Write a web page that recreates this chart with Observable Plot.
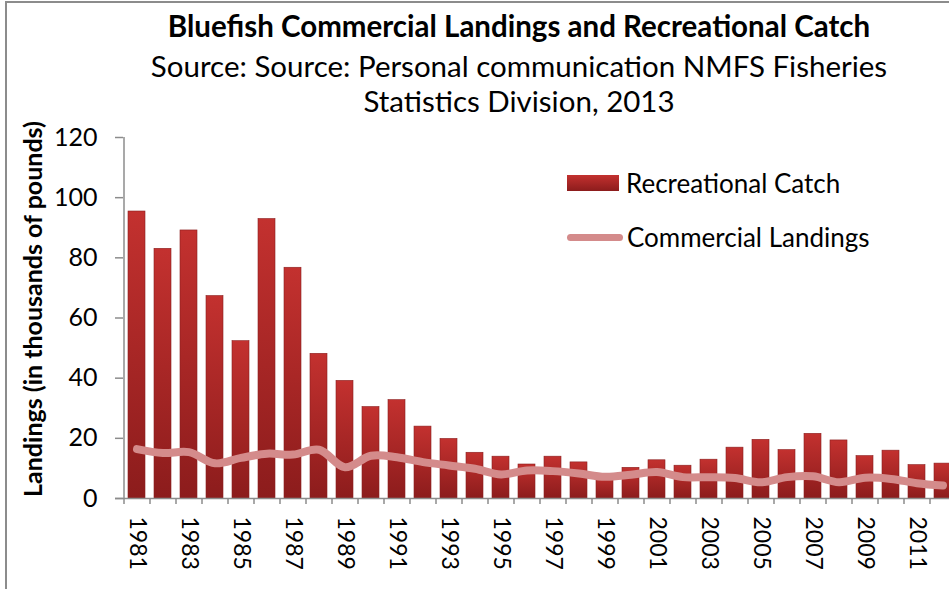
<!DOCTYPE html>
<html>
<head>
<meta charset="utf-8">
<script src="https://cdn.jsdelivr.net/npm/d3@7"></script>
<script src="https://cdn.jsdelivr.net/npm/@observablehq/plot@0.6"></script>
<style>
  html, body { margin: 0; padding: 0; background: #fff; }
  #wrap { position: relative; width: 949px; height: 589px; overflow: hidden; font-family: Lato, sans-serif; color: #000; }
  #border { position: absolute; left: 5px; top: 1px; width: 2000px; height: 2000px; border-top: 2px solid #8c8c8c; border-left: 2px solid #8c8c8c; pointer-events: none; }
  #titles { position: relative; width: 1038px; height: 116px; }
  .t { position: absolute; left: 0; width: 100%; text-align: center; line-height: 1; white-space: nowrap; }
  #title { top: 11px; font-size: 29.5px; font-weight: bold; }
  #sub1 { top: 51px; font-size: 29.5px; }
  #sub2 { top: 86px; font-size: 29.5px; }
  .leg { position: absolute; left: 567px; display: flex; align-items: center; height: 28px; font-size: 26px; white-space: nowrap; }
  .sw-bar { width: 52px; height: 16px; background: linear-gradient(#c3312f, #8c1c1c); margin-right: 7px; }
  .sw-line { width: 56px; height: 7px; border-radius: 4px; background: #d48b8b; margin-right: 4px; }
  #chart svg { display: block; }
</style>
</head>
<body>
<svg width="0" height="0" style="position:absolute">
  <defs>
    <linearGradient id="barGrad" x1="0" y1="0" x2="0" y2="1">
      <stop offset="0" stop-color="#c3312f"/>
      <stop offset="1" stop-color="#8c1c1c"/>
    </linearGradient>
  </defs>
</svg>
<div id="wrap">
  <div id="titles">
    <div class="t" id="title">Bluefish Commercial Landings and Recreational Catch</div>
    <div class="t" id="sub1">Source: Source: Personal communication NMFS Fisheries</div>
    <div class="t" id="sub2">Statistics Division, 2013</div>
  </div>
  <div id="chart"></div>
  <div class="leg" style="top:169px"><div class="sw-bar"></div><span>Recreational Catch</span></div>
  <div class="leg" style="top:223px"><div class="sw-line"></div><span>Commercial Landings</span></div>
  <div id="border"></div>
</div>
<script>
const years = ["1981","1982","1983","1984","1985","1986","1987","1988","1989","1990",
  "1991","1992","1993","1994","1995","1996","1997","1998","1999","2000",
  "2001","2002","2003","2004","2005","2006","2007","2008","2009","2010","2011","2012"];
const recreationalCatch = [95.4, 83.0, 89.1, 67.3, 52.3, 92.9, 76.7, 48.1, 39.1, 30.4,
  32.7, 23.9, 19.8, 15.2, 13.9, 11.3, 13.9, 12.0, 7.8, 10.2,
  12.7, 10.9, 12.9, 16.9, 19.5, 16.1, 21.5, 19.3, 14.1, 15.9, 11.1, 11.6];
const commercialLandings = [16.4, 15.1, 15.4, 11.7, 13.5, 14.9, 14.6, 16.2, 10.4, 14.2,
  13.7, 12.1, 11.0, 9.9, 8.0, 9.3, 9.1, 8.3, 7.2, 7.9,
  8.8, 7.1, 7.1, 6.8, 5.4, 7.1, 7.4, 5.4, 6.9, 6.5, 5.1, 4.3];
const yTicks = [0, 20, 40, 60, 80, 100, 120];
const xTickLabels = years.filter((d, i) => i % 2 === 0);
const yLabel = "Landings (in thousands of pounds)";

const data = years.map((y, i) => ({year: y, rec: recreationalCatch[i], com: commercialLandings[i]}));
const grey = "#8c8c8c";

const plot = Plot.plot({
  width: 949,
  height: 473,
  marginLeft: 123,
  marginRight: -6,
  marginTop: 21,
  marginBottom: 91,
  style: {fontFamily: "Lato, sans-serif", color: "#000", background: "transparent", maxWidth: "none", overflow: "visible"},
  x: {domain: years, paddingInner: 0.35, paddingOuter: 0.175, axis: null},
  y: {domain: [0, 120], axis: null},
  marks: [
    Plot.barY(data, {x: "year", y: "rec", fill: "url(#barGrad)", stroke: "#8a1f1f", strokeWidth: 0.6}),
    Plot.ruleX(years, {x: d => d, dx: -13, y1: 0, y2: -2, stroke: grey, strokeWidth: 1.5}),
    Plot.ruleX([years[0]], {x: d => d, dx: -13, y1: 0, y2: 120, stroke: grey, strokeWidth: 1.5}),
    Plot.ruleY([0], {stroke: grey, strokeWidth: 1.5, insetLeft: -8}),
    Plot.axisY({ticks: yTicks, tickSize: 8, tickPadding: 18, stroke: grey, strokeWidth: 1.5, fontSize: 25, label: null}),
    Plot.axisX({ticks: xTickLabels, tickSize: 0, tickPadding: 18, tickRotate: 90, fontSize: 23, label: null}),
    Plot.line(data, {x: "year", y: "com", stroke: "#d48b8b", strokeWidth: 8, curve: "catmull-rom", strokeLinecap: "round", strokeLinejoin: "round"}),
    Plot.text([yLabel], {text: d => d, frameAnchor: "left", rotate: -90, dx: -90, dy: -9, fontSize: 25, fontWeight: "bold", textAnchor: "middle", lineAnchor: "middle"})
  ]
});
document.getElementById("chart").appendChild(plot);
</script>
</body>
</html>
